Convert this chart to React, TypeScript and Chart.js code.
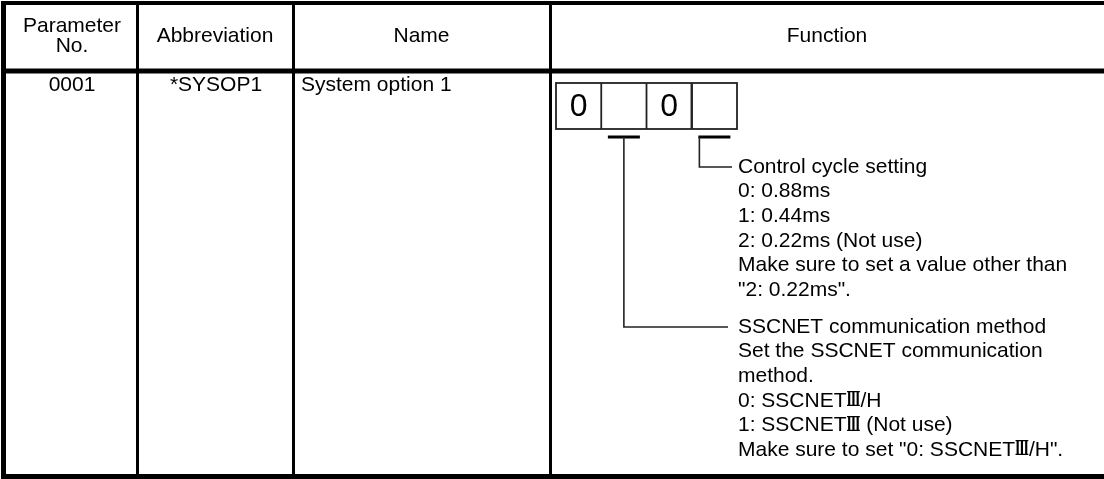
import React, { useEffect, useRef } from "react";
import { Chart, registerables } from "chart.js";

Chart.register(...registerables);

// ---- Table content ----
const headerLabels: string[][] = [["Parameter", "No."], ["Abbreviation"], ["Name"], ["Function"]];
const paramNumbers: string[] = ["0001"];
const abbreviations: string[] = ["*SYSOP1"];
const paramNames: string[] = ["System option 1"];
const digitBoxes: string[] = ["0", "", "0", ""];
const controlCycleLines: string[] = [
  "Control cycle setting",
  "0: 0.88ms",
  "1: 0.44ms",
  "2: 0.22ms (Not use)",
  "Make sure to set a value other than",
  "\"2: 0.22ms\".",
];
const sscnetLines: string[] = [
  "SSCNET communication method",
  "Set the SSCNET communication",
  "method.",
  "0: SSCNET\u2162/H",
  "1: SSCNET\u2162 (Not use)",
  "Make sure to set \"0: SSCNET\u2162/H\".",
];

const W = 1104;
const H = 479;
const FONT = "'Liberation Sans', Arial, sans-serif";
const ROMAN = "'DejaVu Serif', 'DejaVu Sans', serif";
const FS = 21;

function drawRich(ctx: CanvasRenderingContext2D, text: string, x: number, y: number) {
  const parts = text.split("\u2162");
  let cx = x;
  ctx.textAlign = "left";
  parts.forEach((p, i) => {
    ctx.font = `${FS}px ${FONT}`;
    ctx.fillText(p, cx, y);
    cx += ctx.measureText(p).width;
    if (i < parts.length - 1) {
      ctx.font = `bold ${FS}px ${ROMAN}`;
      const w = ctx.measureText("\u2162").width;
      const target = FS * 0.66;
      ctx.save();
      ctx.translate(cx, y);
      ctx.scale(target / w, 1);
      ctx.fillText("\u2162", 0, 0);
      ctx.restore();
      cx += target;
    }
  });
  ctx.font = `${FS}px ${FONT}`;
}

const tablePlugin = {
  id: "tablePlugin",
  afterDraw(chart: any) {
    const ctx: CanvasRenderingContext2D = chart.ctx;
    const xs = chart.scales.x;
    const ys = chart.scales.y;
    const X = (v: number) => xs.getPixelForValue(v);
    const Y = (v: number) => ys.getPixelForValue(v);
    const rect = (x0: number, y0: number, x1: number, y1: number, color = "#000") => {
      ctx.fillStyle = color;
      ctx.fillRect(X(x0), Y(y0), X(x1) - X(x0), Y(y1) - Y(y0));
    };
    ctx.save();
    ctx.fillStyle = "#fff";
    ctx.fillRect(0, 0, chart.width, chart.height);

    // column boundaries
    const cols = [1, 137, 293, 550, W];
    const top = 1, headBot = 71, bottom = 479;

    // borders
    rect(1, top, W, top + 4);
    rect(1, headBot - 2.5, W, headBot + 2.5);
    rect(1, bottom - 5, W, bottom);
    rect(1, top, 6, bottom);
    for (let i = 1; i < 4; i++) rect(cols[i] - 1, top, cols[i] + 2, bottom);

    // header text
    ctx.fillStyle = "#000";
    ctx.font = `${FS}px ${FONT}`;
    ctx.textBaseline = "middle";
    ctx.textAlign = "center";
    const hc = (top + headBot) / 2;
    headerLabels.forEach((lines, i) => {
      const cx = i === 0 ? (cols[0] + cols[1]) / 2 + 3 : (cols[i] + cols[i + 1]) / 2;
      const lh = 20;
      lines.forEach((t, j) => {
        const yy = hc + (j - (lines.length - 1) / 2) * lh;
        ctx.fillText(t, X(cx), Y(yy));
      });
    });

    // body row
    const rowY = 85;
    paramNumbers.forEach((t) => ctx.fillText(t, X((cols[0] + cols[1]) / 2 + 3), Y(rowY)));
    abbreviations.forEach((t) => ctx.fillText(t, X((cols[1] + cols[2]) / 2 + 1), Y(rowY)));
    ctx.textAlign = "left";
    paramNames.forEach((t) => ctx.fillText(t, X(cols[2] + 8), Y(rowY)));

    // digit boxes
    const bx0 = 556, bw = 45.25, by0 = 83, by1 = 129;
    ctx.strokeStyle = "#222";
    ctx.lineWidth = 1.8;
    ctx.strokeRect(X(bx0), Y(by0), X(bx0 + bw * digitBoxes.length) - X(bx0), Y(by1) - Y(by0));
    for (let i = 1; i < digitBoxes.length; i++) {
      ctx.lineWidth = i === 3 ? 2.4 : 1.8;
      ctx.beginPath();
      ctx.moveTo(X(bx0 + bw * i), Y(by0));
      ctx.lineTo(X(bx0 + bw * i), Y(by1));
      ctx.stroke();
    }
    ctx.textAlign = "center";
    ctx.font = `32px ${FONT}`;
    ctx.fillStyle = "#000";
    digitBoxes.forEach((d, i) => {
      if (d) ctx.fillText(d, X(bx0 + bw * (i + 0.5)), Y((by0 + by1) / 2 + 1));
    });

    // ticks under digits 2 and 4
    const tickY = 137;
    const t1c = bx0 + bw * 1.5, t2c = bx0 + bw * 3.5;
    rect(t1c - 16, tickY - 1.5, t1c + 16, tickY + 1.5);
    rect(t2c - 16, tickY - 1.5, t2c + 16, tickY + 1.5);

    const textX = 738;
    const lh = 24.6;
    const g1y = 167;
    const g2y = 327;

    ctx.strokeStyle = "#222";
    ctx.lineWidth = 1.6;
    // bracket for control cycle (4th digit)
    ctx.beginPath();
    ctx.moveTo(X(t2c - 15), Y(tickY));
    ctx.lineTo(X(t2c - 15), Y(g1y));
    ctx.lineTo(X(textX - 6), Y(g1y));
    ctx.stroke();
    // bracket for SSCNET (2nd digit)
    ctx.beginPath();
    ctx.moveTo(X(t1c), Y(tickY));
    ctx.lineTo(X(t1c), Y(g2y));
    ctx.lineTo(X(textX - 10), Y(g2y));
    ctx.stroke();

    ctx.fillStyle = "#000";
    controlCycleLines.forEach((t, i) => drawRich(ctx, t, X(textX), Y(g1y + i * lh)));
    sscnetLines.forEach((t, i) => drawRich(ctx, t, X(textX), Y(g2y + i * lh)));

    ctx.restore();
  },
};

export default function App() {
  const ref = useRef<HTMLCanvasElement | null>(null);
  useEffect(() => {
    document.body.style.margin = "0";
    const canvas = ref.current;
    if (!canvas) return;
    const chart = new Chart(canvas, {
      type: "scatter",
      data: { datasets: [{ data: [], pointRadius: 0 }] },
      options: {
        responsive: false,
        animation: false,
        devicePixelRatio: 1,
        layout: { padding: 0 },
        events: [],
        scales: {
          x: { type: "linear", min: 0, max: W, display: false },
          y: { type: "linear", min: 0, max: H, reverse: true, display: false },
        },
        plugins: { legend: { display: false }, tooltip: { enabled: false }, title: { display: false } },
      },
      plugins: [tablePlugin],
    });
    return () => chart.destroy();
  }, []);
  return (
    <div style={{ position: "absolute", left: 0, top: 0, width: W, height: H, background: "#fff" }}>
      <canvas ref={ref} width={W} height={H} style={{ display: "block" }} />
    </div>
  );
}
